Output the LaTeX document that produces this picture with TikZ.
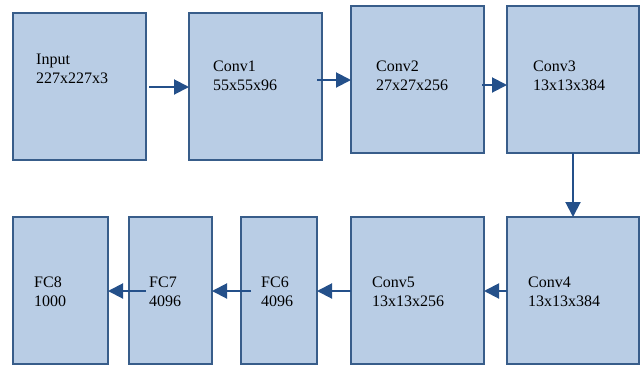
\documentclass[tikz,border=0pt]{standalone}
\usepackage{fontspec}
\setmainfont{Liberation Serif}
\usetikzlibrary{arrows.meta,calc}
\definecolor{boxfill}{HTML}{B9CDE5}
\definecolor{boxline}{HTML}{385D8A}
\definecolor{arrcol}{HTML}{24508A}
\begin{document}
\begin{tikzpicture}[x=1pt,y=-1pt,
  box/.style={draw=boxline,fill=boxfill,line width=2pt,inner sep=0pt,outer sep=0pt,anchor=north west,minimum height=147pt},
  lbl/.style={anchor=west,align=left,inner sep=0pt,font=\fontsize{16}{19}\selectfont},
  arr/.style={draw=arrcol,line width=2pt,-{Triangle[length=15pt,width=15pt]}}]
\useasboundingbox (0,0) rectangle (642,365);
% boxes
\node[box,minimum width=133pt] (in) at (13,13) {};
\node[box,minimum width=133pt] (c1) at (189,13) {};
\node[box,minimum width=133pt] (c2) at (351,6) {};
\node[box,minimum width=132pt] (c3) at (507,6) {};
\node[box,minimum width=95pt] (f8) at (13,217) {};
\node[box,minimum width=83pt] (f7) at (129,217) {};
\node[box,minimum width=76pt] (f6) at (241,217) {};
\node[box,minimum width=133pt] (c5) at (351,217) {};
\node[box,minimum width=132pt] (c4) at (507,217) {};
% labels
\node[lbl] (tin) at (36,68.5) {Input\\227x227x3};
\node[lbl] (tc1) at (213,76) {Conv1\\55x55x96};
\node[lbl] (tc2) at (376,76) {Conv2\\27x27x256};
\node[lbl] (tc3) at (533,76) {Conv3\\13x13x384};
\node[lbl] (tf8) at (34,291.5) {FC8\\1000};
\node[lbl] (tf7) at (149,291.5) {FC7\\4096};
\node[lbl] (tf6) at (261,291.5) {FC6\\4096};
\node[lbl] (tc5) at (372,291.5) {Conv5\\13x13x256};
\node[lbl] (tc4) at (528,291.5) {Conv4\\13x13x384};
% start coordinates
\coordinate (s1) at ($(in.north east)+(3,74)$);
\coordinate (s2) at ($(c1.north east)+(-5,67)$);
\coordinate (s3) at ($(c2.north east)+(-2,79)$);
\coordinate (s6) at ($(f6.north west)+(10,74)$);
\coordinate (s7) at ($(f7.north west)+(17,74)$);
% connectors
\draw[arr] (s1) -- (s1 -| c1.west);
\draw[arr] (s2) -- (s2 -| c2.west);
\draw[arr] (s3) -- (s3 -| c3.west);
\draw[arr] (c3.south -| 573,0) -- (c4.north -| 573,0);
\draw[arr] (c4.west |- 0,291) -- (c5.east |- 0,291);
\draw[arr] (c5.west |- 0,291) -- (f6.east |- 0,291);
\draw[arr] (s6) -- (s6 -| f7.east);
\draw[arr] (s7) -- (s7 -| f8.east);
\end{tikzpicture}
\end{document}
